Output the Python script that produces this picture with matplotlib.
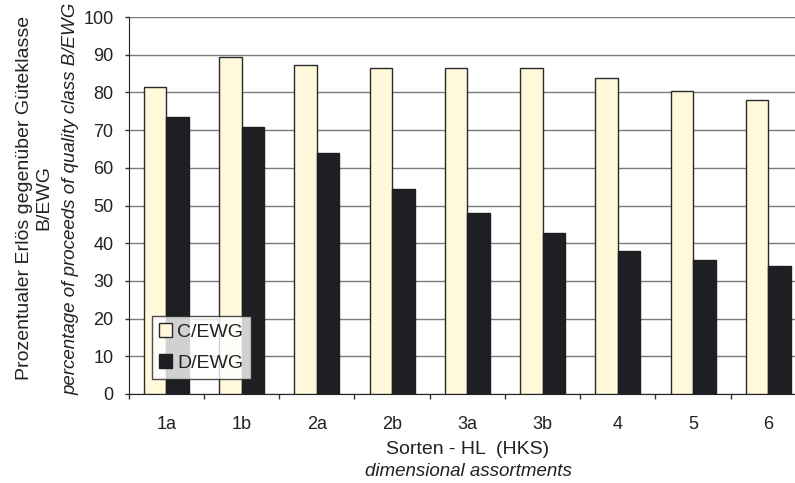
import matplotlib
matplotlib.use("Agg")
import matplotlib.pyplot as plt
import numpy as np

categories = ["1a", "1b", "2a", "2b", "3a", "3b", "4", "5", "6"]
c_ewg = [81.4, 89.3, 87.3, 86.5, 86.5, 86.5, 83.7, 80.5, 78.1]
d_ewg = [73.5, 70.7, 64.0, 54.5, 47.9, 42.7, 37.9, 35.5, 34.0]
yticks = [0, 10, 20, 30, 40, 50, 60, 70, 80, 90, 100]

plt.rcParams['font.family'] = ['Liberation Sans', 'DejaVu Sans']
fs_tick = 13
fs_lab = 14
txtc = "#222222"

fig = plt.figure(figsize=(7.95, 4.83), dpi=100)
ax = fig.add_axes([128.7/795, (483-394)/483, (806-128.7)/795, (394-17)/483])

x = np.arange(len(categories))
w = 0.3
ax.bar(x - w/2, c_ewg, width=w, color="#FFF8DA", edgecolor="#2a2a2a", linewidth=1.0,
       label="C/EWG", zorder=3)
ax.bar(x + w/2, d_ewg, width=w, color="#1e1f23", edgecolor="#1e1f23", linewidth=1.0,
       label="D/EWG", zorder=3)

ax.set_xlim(-0.5, len(categories) - 0.5)
ax.set_ylim(0, 100)
ax.set_yticks(yticks)
ax.set_yticklabels([str(v) for v in yticks], fontsize=fs_tick, color=txtc)
ax.yaxis.grid(True, color="#7a7a7a", linewidth=1.0, zorder=0)
ax.set_axisbelow(True)

ax.set_xticks(x)
ax.set_xticklabels(categories, fontsize=fs_tick, color=txtc)
ax.tick_params(axis='x', which='major', length=0, pad=16)
ax.set_xticks(np.arange(len(categories) + 1) - 0.5, minor=True)
ax.tick_params(axis='x', which='minor', length=3.5, color="#333333", width=1)
ax.tick_params(axis='y', length=3.0, color="#333333", width=1, pad=8)

for s in ["top", "right"]:
    ax.spines[s].set_visible(False)
ax.spines["left"].set_color("#222222")
ax.spines["bottom"].set_color("#222222")

xc = 468/795
fig.text(xc, 1 - 450/483, "Sorten - HL  (HKS)", ha="center", va="center",
         fontsize=fs_lab, color=txtc)
fig.text(xc, 1 - 471/483, "dimensional assortments", ha="center", va="center",
         fontsize=13.5, color=txtc, style="italic")

fig.text(34/795, 1 - 198/483, "Prozentualer Erlös gegenüber Güteklasse\nB/EWG", rotation=90,
         ha="center", va="center", multialignment="center", fontsize=fs_lab, color=txtc,
         linespacing=1.2)
fig.text(71/795, 1 - 199/483, "percentage of proceeds of quality class B/EWG", rotation=90,
         ha="center", va="center", fontsize=13.5, color=txtc, style="italic")

leg = ax.legend(loc="upper left", bbox_to_anchor=((152-128.7)/(806-128.7), (394-316)/377),
                fontsize=fs_lab, frameon=True, fancybox=False, edgecolor="#222222",
                handlelength=0.67, handleheight=0.67, handletextpad=0.25, borderpad=0.38,
                labelspacing=0.7, borderaxespad=0)
leg.get_frame().set_linewidth(1.0)
for t in leg.get_texts():
    t.set_color(txtc)

fig.savefig("out.png", dpi=100)
